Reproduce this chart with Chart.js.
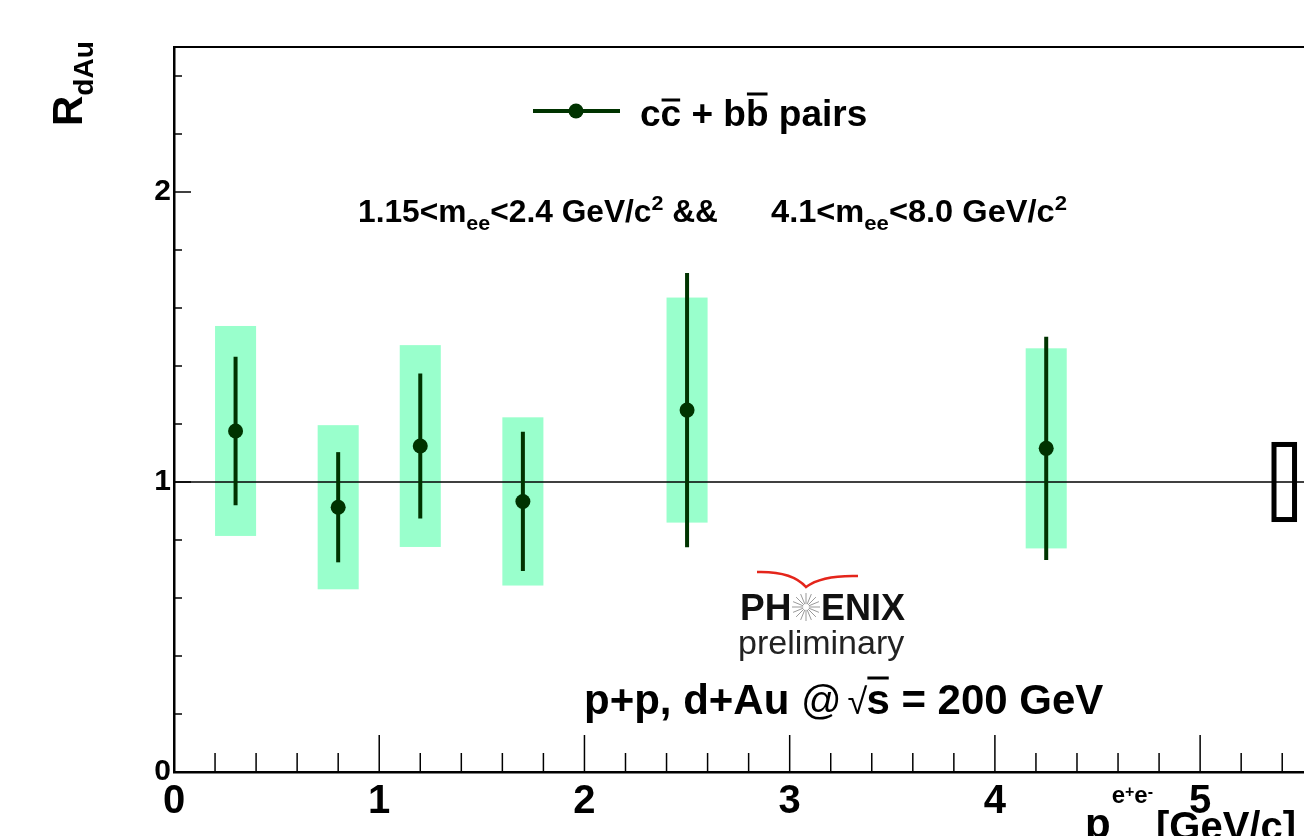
<!DOCTYPE html>
<html>
<head>
<meta charset="utf-8">
<script src="https://cdn.jsdelivr.net/npm/chart.js@4.4.1/dist/chart.umd.min.js"></script>
<style>
  html, body { margin: 0; padding: 0; background: #fff; overflow: hidden; }
  #wrap { position: absolute; left: 0; top: 0; width: 1330px; height: 900px; }
</style>
</head>
<body>
<div id="wrap"><canvas id="rdau" width="1330" height="900"></canvas></div>
<script>
// pT bin centres [GeV/c] and measured R_dAu
const ptCenters = [0.3, 0.8, 1.2, 1.7, 2.5, 4.25];
const rdau      = [1.176, 0.913, 1.124, 0.933, 1.248, 1.116];
// statistical (bars) and systematic (boxes) uncertainties
const statErr   = [0.256, 0.190, 0.250, 0.240, 0.473, 0.385];
const sysErr    = [0.362, 0.283, 0.348, 0.290, 0.388, 0.345];
const sysHalfWidth = 0.1;
// global normalisation uncertainty, drawn at the right end
const globalX   = 5.41;
const globalErr = 0.138;
const xTicks = [0, 1, 2, 3, 4, 5];
const yTicks = [0, 1, 2];

const green = '#003300';
const boxColor = '#99ffcc';
const FONT = '"Liberation Sans", Arial, Helvetica, sans-serif';

function isInt(v) { return Math.abs(v - Math.round(v)) < 1e-6; }

// draw a list of text pieces one after another, returns end x
function drawSegs(ctx, x, y, segs) {
  segs.forEach(function (s) {
    ctx.font = s.font;
    ctx.fillText(s.t, x, y + (s.dy || 0));
    const w = ctx.measureText(s.t).width;
    if (s.bar !== undefined) {
      ctx.save();
      ctx.lineWidth = 3;
      ctx.beginPath();
      ctx.moveTo(x + 1, y + s.bar);
      ctx.lineTo(x + w - 1, y + s.bar);
      ctx.stroke();
      ctx.restore();
    }
    x += w;
  });
  return x;
}
function segsWidth(ctx, segs) {
  let w = 0;
  segs.forEach(function (s) { ctx.font = s.font; w += ctx.measureText(s.t).width; });
  return w;
}
// squeeze a run of text to fit a target width (condensed look)
function drawFitted(ctx, x, y, segs, width) {
  const w = segsWidth(ctx, segs);
  ctx.save();
  ctx.translate(x, y);
  ctx.scale(width / w, 1);
  drawSegs(ctx, 0, 0, segs);
  ctx.restore();
}

const rootStyle = {
  id: 'rootStyle',
  beforeDatasetsDraw(chart) {
    const ctx = chart.ctx, xs = chart.scales.x, ys = chart.scales.y, a = chart.chartArea;
    ctx.save();
    // systematic boxes
    ctx.fillStyle = boxColor;
    ptCenters.forEach(function (x, i) {
      const x0 = xs.getPixelForValue(x - sysHalfWidth), x1 = xs.getPixelForValue(x + sysHalfWidth);
      const y0 = ys.getPixelForValue(rdau[i] + sysErr[i]), y1 = ys.getPixelForValue(rdau[i] - sysErr[i]);
      ctx.fillRect(x0, y0, x1 - x0, y1 - y0);
    });
    // unity line
    ctx.strokeStyle = '#000';
    ctx.lineWidth = 1.5;
    ctx.beginPath();
    ctx.moveTo(a.left, ys.getPixelForValue(1));
    ctx.lineTo(a.right, ys.getPixelForValue(1));
    ctx.stroke();
    // statistical bars
    ctx.strokeStyle = green;
    ctx.lineWidth = 4;
    ptCenters.forEach(function (x, i) {
      const px = xs.getPixelForValue(x);
      ctx.beginPath();
      ctx.moveTo(px, ys.getPixelForValue(rdau[i] + statErr[i]));
      ctx.lineTo(px, ys.getPixelForValue(rdau[i] - statErr[i]));
      ctx.stroke();
    });
    // global uncertainty box
    ctx.strokeStyle = '#000';
    ctx.lineWidth = 5;
    const gx0 = xs.getPixelForValue(globalX - 0.05), gx1 = xs.getPixelForValue(globalX + 0.05);
    const gy0 = ys.getPixelForValue(1 + globalErr) + 2.5, gy1 = ys.getPixelForValue(1 - globalErr) - 2.5;
    ctx.strokeRect(gx0, gy0, gx1 - gx0, gy1 - gy0);
    ctx.restore();
  },
  afterDraw(chart) {
    const ctx = chart.ctx, xs = chart.scales.x, ys = chart.scales.y, a = chart.chartArea;
    ctx.save();
    // frame top and right
    ctx.strokeStyle = '#000';
    ctx.lineWidth = 2;
    ctx.beginPath();
    ctx.moveTo(a.left - 1, a.top);
    ctx.lineTo(a.right, a.top);
    ctx.lineTo(a.right, a.bottom);
    ctx.stroke();
    // inward ticks
    ctx.lineWidth = 1.5;
    for (let k = 0; k * 0.2 <= 5.5; k++) {
      const px = xs.getPixelForValue(k * 0.2);
      const len = (k % 5 === 0) ? 37 : 19;
      ctx.beginPath();
      ctx.moveTo(px, a.bottom);
      ctx.lineTo(px, a.bottom - len);
      ctx.stroke();
    }
    for (let k = 0; k * 0.2 <= 2.5; k++) {
      const py = ys.getPixelForValue(k * 0.2);
      const len = (k % 5 === 0) ? 17 : 8;
      ctx.beginPath();
      ctx.moveTo(a.left, py);
      ctx.lineTo(a.left + len, py);
      ctx.stroke();
    }

    ctx.fillStyle = '#000';
    ctx.strokeStyle = '#000';
    ctx.textBaseline = 'alphabetic';
    ctx.textAlign = 'left';

    // y title, rotated
    ctx.save();
    ctx.translate(82, 126);
    ctx.rotate(-Math.PI / 2);
    drawSegs(ctx, 0, 0, [
      { t: 'R', font: 'bold 42px ' + FONT },
      { t: 'dAu', font: 'bold 28px ' + FONT, dy: 11 }
    ]);
    ctx.restore();

    // x title
    const B40 = 'bold 40px ' + FONT;
    let tx = drawSegs(ctx, 1085, 838, [{ t: 'p', font: 'bold 42px ' + FONT }]);
    tx = drawSegs(ctx, tx + 1, 803, [
      { t: 'e', font: 'bold 24px ' + FONT },
      { t: '+', font: 'bold 16px ' + FONT, dy: -6 },
      { t: 'e', font: 'bold 24px ' + FONT },
      { t: '-', font: 'bold 16px ' + FONT, dy: -6 }
    ]);
    drawSegs(ctx, 1156, 840, [{ t: '[GeV/c]', font: B40 }]);

    // legend
    ctx.strokeStyle = green;
    ctx.lineWidth = 4;
    ctx.beginPath();
    ctx.moveTo(533, 111);
    ctx.lineTo(620, 111);
    ctx.stroke();
    ctx.fillStyle = green;
    ctx.beginPath();
    ctx.arc(576, 111, 7.5, 0, Math.PI * 2);
    ctx.fill();
    ctx.fillStyle = '#000';
    ctx.strokeStyle = '#000';
    const B37 = 'bold 37px ' + FONT;
    drawSegs(ctx, 640, 126, [
      { t: 'c', font: B37 },
      { t: 'c', font: B37, bar: -26 },
      { t: ' + b', font: B37 },
      { t: 'b', font: B37, bar: -32 },
      { t: ' pairs', font: B37 }
    ]);

    // mass window text (condensed)
    const N30 = 'bold 31px ' + FONT, N20 = 'bold 21px ' + FONT;
    drawFitted(ctx, 358, 222, [
      { t: '1.15<m', font: N30 },
      { t: 'ee', font: N20, dy: 8 },
      { t: '<2.4 GeV/c', font: N30 },
      { t: '2', font: N20, dy: -12 },
      { t: ' &&', font: N30 }
    ], 360);
    drawFitted(ctx, 771, 222, [
      { t: '4.1<m', font: N30 },
      { t: 'ee', font: N20, dy: 8 },
      { t: '<8.0 GeV/c', font: N30 },
      { t: '2', font: N20, dy: -12 }
    ], 296);

    // PHENIX logo
    ctx.strokeStyle = '#e4251b';
    ctx.lineWidth = 2.5;
    ctx.beginPath();
    ctx.moveTo(757, 572);
    ctx.quadraticCurveTo(792, 571, 806, 587);
    ctx.quadraticCurveTo(822, 575, 858, 576);
    ctx.stroke();
    ctx.fillStyle = '#111';
    drawSegs(ctx, 740, 620, [{ t: 'PH', font: 'bold 37px ' + FONT }]);
    drawSegs(ctx, 821, 620, [{ t: 'ENIX', font: 'bold 36px ' + FONT }]);
    ctx.strokeStyle = '#999';
    ctx.lineWidth = 1;
    for (let k = 0; k < 16; k++) {
      const ang = k * Math.PI / 8;
      ctx.beginPath();
      ctx.moveTo(806 + 3 * Math.cos(ang), 607 + 3 * Math.sin(ang));
      ctx.lineTo(806 + 14 * Math.cos(ang), 607 + 14 * Math.sin(ang));
      ctx.stroke();
    }
    ctx.fillStyle = '#222';
    drawSegs(ctx, 738, 654, [{ t: 'preliminary', font: '34px ' + FONT }]);

    // collision system
    ctx.fillStyle = '#000';
    ctx.strokeStyle = '#000';
    const B42 = 'bold 42px ' + FONT;
    tx = drawSegs(ctx, 584, 714, [
      { t: 'p+p, d+Au ', font: B42 },
      { t: '@', font: '40px ' + FONT }
    ]);
    tx = drawSegs(ctx, tx + 6, 714, [{ t: '\u221A', font: '36px ' + FONT }]);
    drawSegs(ctx, tx - 1, 714, [
      { t: 's', font: B42, bar: -36 },
      { t: ' = 200 GeV', font: B42 }
    ]);
    ctx.restore();
  }
};

const chart = new Chart(document.getElementById('rdau').getContext('2d'), {
  type: 'scatter',
  data: {
    datasets: [{
      data: ptCenters.map(function (x, i) { return { x: x, y: rdau[i] }; }),
      pointRadius: 7.5,
      pointBackgroundColor: green,
      pointBorderWidth: 0,
      showLine: false
    }]
  },
  options: {
    responsive: false,
    animation: false,
    layout: { padding: { top: 47, right: 17, left: 0, bottom: 0 } },
    plugins: {
      legend: { display: false },
      tooltip: { enabled: false }
    },
    scales: {
      x: {
        type: 'linear',
        min: 0,
        max: 5.55,
        afterFit: function (s) { s.height = 128; },
        grid: { display: false, drawTicks: false },
        border: { display: true, color: '#000', width: 2.5 },
        ticks: {
          stepSize: 0.2,
          autoSkip: false,
          maxRotation: 0,
          minRotation: 0,
          padding: 6,
          color: '#000',
          font: { family: FONT, size: 40, weight: 'bold' },
          callback: function (v) { return xTicks.some(function (t) { return isInt(v) && Math.round(v) === t; }) ? String(Math.round(v)) : ''; }
        }
      },
      y: {
        min: 0,
        max: 2.5,
        afterFit: function (s) { s.width = 174; },
        grid: { display: false, drawTicks: false },
        border: { display: true, color: '#000', width: 2.5 },
        ticks: {
          stepSize: 0.2,
          autoSkip: false,
          padding: 3,
          color: '#000',
          font: { family: FONT, size: 30, weight: 'bold' },
          callback: function (v) { return yTicks.some(function (t) { return isInt(v) && Math.round(v) === t; }) ? String(Math.round(v)) : ''; }
        }
      }
    }
  },
  plugins: [rootStyle]
});
</script>
</body>
</html>
